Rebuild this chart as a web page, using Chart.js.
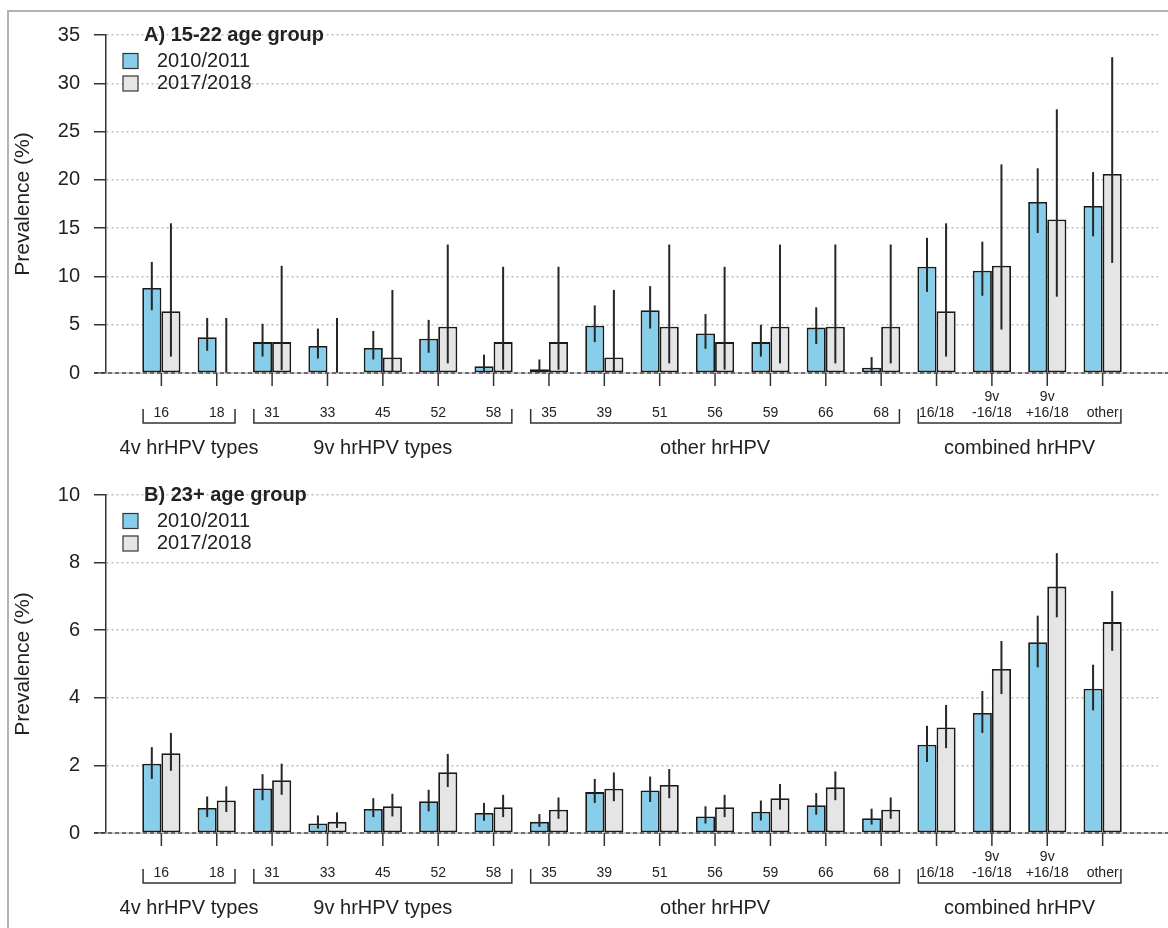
<!DOCTYPE html>
<html>
<head>
<meta charset="utf-8">
<script src="https://cdn.jsdelivr.net/npm/chart.js@4.4.1/dist/chart.umd.min.js"></script>
<style>
  html, body { margin: 0; padding: 0; background: #fff; }
  #wrap { position: relative; width: 1168px; height: 928px; overflow: hidden; }
  .panel { position: absolute; left: 0; width: 1168px; }
  #frame { position: absolute; left: 7px; top: 10px; right: -10px; bottom: -10px;
           border-left: 2px solid #b4b4b4; border-top: 2px solid #b4b4b4; pointer-events: none; }
</style>
</head>
<body>
<div id="wrap">
  <div class="panel" style="top:0;height:460px"><canvas id="chartA" width="1168" height="460"></canvas></div>
  <div class="panel" style="top:460px;height:468px"><canvas id="chartB" width="1168" height="468"></canvas></div>
  <div id="frame"></div>
</div>
<script>
// HPV-Typen und Gruppen
const categories = ['16', '18', '31', '33', '45', '52', '58', '35', '39', '51', '56', '59', '66', '68',
  '16/18', '9v\n-16/18', '9v\n+16/18', 'other'];
const groupNames = ['4v hrHPV types', '9v hrHPV types', 'other hrHPV', 'combined hrHPV'];
const groupSizes = [2, 5, 7, 4];
const seriesNames = ['2010/2011', '2017/2018'];
const seriesColors = ['#87ceeb', '#e5e5e5'];

// A) 15-22 Jahre
const youngEarly   = [8.8, 3.7, 3.2, 2.8, 2.6, 3.55, 0.7, 0.4, 4.9, 6.5, 4.1, 3.2, 4.7, 0.55, 11.0, 10.6, 17.7, 17.3];
const youngEarlyLo = [6.5, 2.3, 1.7, 1.5, 1.4, 2.1, 0, 0, 3.2, 4.6, 2.5, 1.7, 3.0, 0, 8.4, 8.0, 14.5, 14.15];
const youngEarlyHi = [11.5, 5.7, 5.1, 4.6, 4.35, 5.5, 1.9, 1.4, 7.0, 9.0, 6.1, 5.0, 6.8, 1.65, 14.0, 13.6, 21.2, 20.8];
const youngLate    = [6.4, 0, 3.2, 0, 1.6, 4.8, 3.2, 3.2, 1.6, 4.8, 3.2, 4.8, 4.8, 4.8, 6.4, 11.1, 15.9, 20.6];
const youngLateLo  = [1.7, 0, 0.3, 0, 0.1, 1.0, 0.35, 0.35, 0.1, 1.0, 0.35, 1.0, 1.0, 1.0, 1.7, 4.5, 7.9, 11.4];
const youngLateHi  = [15.5, 5.7, 11.1, 5.7, 8.6, 13.3, 11.0, 11.0, 8.6, 13.3, 11.0, 13.3, 13.3, 13.3, 15.5, 21.6, 27.3, 32.7];

// B) 23+ Jahre
const olderEarly   = [2.05, 0.74, 1.32, 0.28, 0.71, 0.94, 0.59, 0.33, 1.21, 1.26, 0.49, 0.63, 0.82, 0.44, 2.61, 3.55, 5.64, 4.27];
const olderEarlyLo = [1.6, 0.47, 0.97, 0.13, 0.47, 0.64, 0.36, 0.18, 0.89, 0.92, 0.28, 0.37, 0.54, 0.25, 2.1, 2.96, 4.9, 3.63];
const olderEarlyHi = [2.54, 1.08, 1.74, 0.52, 1.03, 1.28, 0.89, 0.56, 1.6, 1.67, 0.79, 0.96, 1.18, 0.72, 3.17, 4.2, 6.43, 4.98];
const olderLate    = [2.36, 0.96, 1.56, 0.33, 0.79, 1.8, 0.76, 0.69, 1.31, 1.42, 0.76, 1.03, 1.35, 0.69, 3.12, 4.85, 7.29, 6.24];
const olderLateLo  = [1.84, 0.62, 1.13, 0.15, 0.49, 1.36, 0.47, 0.42, 0.94, 1.03, 0.47, 0.69, 0.97, 0.42, 2.51, 4.11, 6.38, 5.39];
const olderLateHi  = [2.96, 1.38, 2.05, 0.61, 1.16, 2.34, 1.13, 1.05, 1.79, 1.89, 1.13, 1.45, 1.82, 1.05, 3.79, 5.68, 8.28, 7.16];

const FONT = "'Liberation Sans', Arial, Helvetica, sans-serif";
const INK = '#222';

// leere Plaetze links und rechts, wie beim R-barplot
const pad = a => [null, ...a, null];

function strokeLine(ctx, x1, y1, x2, y2) {
  ctx.beginPath(); ctx.moveTo(x1, y1); ctx.lineTo(x2, y2); ctx.stroke();
}

const overlay = {
  id: 'overlay',
  afterDatasetsDraw(chart, args, opts) {
    const { ctx, chartArea } = chart;
    const xs = chart.scales.x, ys = chart.scales.y;
    const y0 = ys.getPixelForValue(0);
    ctx.save();

    // Fehlerbalken
    ctx.strokeStyle = '#262626';
    ctx.lineWidth = 2;
    chart.data.datasets.forEach((ds, di) => {
      chart.getDatasetMeta(di).data.forEach((bar, i) => {
        if (ds.errLo[i] == null) return;
        strokeLine(ctx, bar.x, ys.getPixelForValue(ds.errLo[i]), bar.x, ys.getPixelForValue(ds.errHi[i]));
      });
    });

    // Nulllinie
    ctx.lineWidth = 1;
    ctx.strokeStyle = '#9a9a9a';
    strokeLine(ctx, chartArea.left - 12, y0, chart.width, y0);
    ctx.strokeStyle = '#111';
    ctx.setLineDash([4, 3]);
    strokeLine(ctx, chartArea.left - 12, y0, chart.width, y0);
    ctx.setLineDash([]);

    // x-Ticks und Beschriftung
    ctx.strokeStyle = '#333';
    ctx.lineWidth = 1.5;
    ctx.fillStyle = INK;
    ctx.textAlign = 'center';
    ctx.textBaseline = 'middle';
    ctx.font = '14px ' + FONT;
    categories.forEach((c, i) => {
      const x = xs.getPixelForValue(i + 1);
      strokeLine(ctx, x, y0, x, y0 + 13);
      const parts = c.split('\n');
      parts.forEach((t, k) => ctx.fillText(t, x, y0 + 40 - (parts.length - 1 - k) * 16));
    });

    // Klammern + Gruppennamen
    let start = 1;
    groupSizes.forEach((n, g) => {
      const xa = xs.getPixelForValue(start - 0.33);
      const xb = xs.getPixelForValue(start + n - 1 + 0.33);
      const yb = y0 + 50;
      ctx.beginPath();
      ctx.moveTo(xa, yb - 14); ctx.lineTo(xa, yb); ctx.lineTo(xb, yb); ctx.lineTo(xb, yb - 14);
      ctx.stroke();
      ctx.font = '20px ' + FONT;
      const xm = (xs.getPixelForValue(start) + xs.getPixelForValue(start + n - 1)) / 2;
      ctx.fillText(groupNames[g], xm, y0 + 75);
      start += n;
    });

    // Titel und Legende
    ctx.textAlign = 'left';
    ctx.font = 'bold 20px ' + FONT;
    ctx.fillText(opts.title, chartArea.left + 38, chartArea.top);
    ctx.font = '20px ' + FONT;
    seriesNames.forEach((name, k) => {
      const ly = chartArea.top + 26 + k * 22.5;
      ctx.fillStyle = seriesColors[k];
      ctx.fillRect(chartArea.left + 17, ly - 7.5, 15, 15);
      ctx.strokeStyle = '#333';
      ctx.lineWidth = 1.2;
      ctx.strokeRect(chartArea.left + 17, ly - 7.5, 15, 15);
      ctx.fillStyle = INK;
      ctx.fillText(name, chartArea.left + 51, ly);
    });
    ctx.restore();
  }
};

function makeChart(id, title, yMax, step, bottomPad, early, earlyLo, earlyHi, late, lateLo, lateHi) {
  const series = [[early, earlyLo, earlyHi], [late, lateLo, lateHi]];
  return new Chart(document.getElementById(id), {
    type: 'bar',
    data: {
      labels: pad(categories.map(c => c.replace('\n', ' '))),
      datasets: series.map((s, k) => ({
        label: seriesNames[k],
        data: pad(s[0]),
        errLo: pad(s[1]),
        errHi: pad(s[2]),
        backgroundColor: seriesColors[k],
        borderColor: '#1a1a1a',
        borderWidth: 1.8,
        borderSkipped: false,
        categoryPercentage: 0.69,
        barPercentage: 1.0
      }))
    },
    options: {
      responsive: false,
      animation: false,
      layout: { padding: { left: 10, right: 10, top: 35, bottom: bottomPad } },
      scales: {
        x: { type: 'category', display: false, offset: false, grid: { offset: false } },
        y: {
          min: 0, max: yMax,
          ticks: { stepSize: step, color: INK, font: { family: FONT, size: 20 }, padding: 14 },
          grid: {
            color: c => (c.tick && c.tick.value === 0) ? 'rgba(0,0,0,0)' : '#bcbcbc',
            lineWidth: 1.5, tickLength: 12, tickColor: '#333', tickWidth: 1.5, tickBorderDash: []
          },
          border: { display: true, color: '#333', width: 1.5, dash: [2, 3] },
          title: { display: true, text: 'Prevalence (%)', color: INK,
                   font: { family: FONT, size: 21 }, padding: { top: 1, bottom: 0 } },
          afterFit: s => { s.width = 96; }
        }
      },
      plugins: {
        legend: { display: false },
        tooltip: { enabled: false },
        overlay: { title: title }
      }
    },
    plugins: [overlay]
  });
}

makeChart('chartA', 'A) 15-22 age group', 35, 5, 87,
  youngEarly, youngEarlyLo, youngEarlyHi, youngLate, youngLateLo, youngLateHi);
makeChart('chartB', 'B) 23+ age group', 10, 2, 95,
  olderEarly, olderEarlyLo, olderEarlyHi, olderLate, olderLateLo, olderLateHi);
</script>
</body>
</html>
